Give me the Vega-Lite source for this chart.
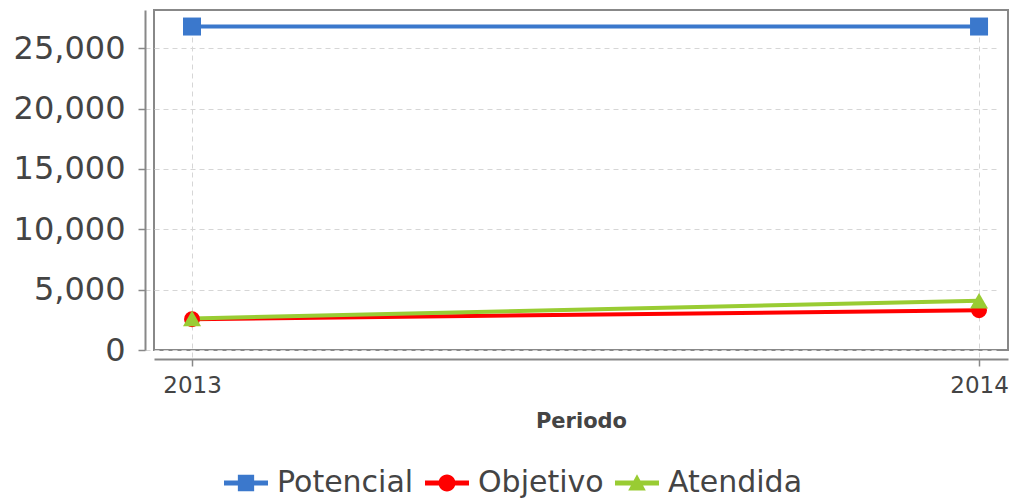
{
  "$schema": "https://vega.github.io/schema/vega-lite/v6.json",
  "autosize": {"type": "none"},
  "width": 854,
  "height": 340,
  "padding": {"left": 154, "top": 10, "right": 2, "bottom": 150},
  "background": "white",
  "config": {
    "view": {"stroke": "#888888", "strokeWidth": 2},
    "font": "DejaVu Sans",
    "axis": {
      "domainColor": "#888888",
      "domainWidth": 2,
      "tickColor": "#888888",
      "tickWidth": 1.5,
      "tickSize": 7,
      "offset": 9,
      "gridColor": "#d6d6d6",
      "gridDash": [5, 4],
      "gridWidth": 1,
      "labelColor": "#444444",
      "labelFont": "DejaVu Sans",
      "titleFont": "DejaVu Sans",
      "titleColor": "#444444"
    }
  },
  "data": {
    "values": [
      {"serie": "Potencial", "periodo": 2013, "valor": 26800},
      {"serie": "Potencial", "periodo": 2014, "valor": 26800},
      {"serie": "Objetivo", "periodo": 2013, "valor": 2550},
      {"serie": "Objetivo", "periodo": 2014, "valor": 3300},
      {"serie": "Atendida", "periodo": 2013, "valor": 2620},
      {"serie": "Atendida", "periodo": 2014, "valor": 4080}
    ]
  },
  "encoding": {
    "x": {
      "field": "periodo",
      "type": "quantitative",
      "scale": {"domain": [2012.9517, 2014.0368], "nice": false, "zero": false},
      "axis": {
        "values": [2013, 2014],
        "format": "d",
        "title": "Periodo",
        "labelFontSize": 23,
        "labelPadding": 8,
        "titleFontSize": 21,
        "titleFontWeight": 600,
        "titlePadding": 13
      }
    },
    "y": {
      "field": "valor",
      "type": "quantitative",
      "scale": {"domain": [0, 28170], "nice": false},
      "axis": {
        "values": [0, 5000, 10000, 15000, 20000, 25000],
        "format": ",d",
        "title": null,
        "labelFontSize": 32,
        "labelPadding": 13
      }
    },
    "color": {
      "field": "serie",
      "type": "nominal",
      "sort": ["Potencial", "Objetivo", "Atendida"],
      "scale": {
        "domain": ["Potencial", "Objetivo", "Atendida"],
        "range": ["#3b78cc", "#ff0000", "#99cc33"]
      },
      "legend": {
        "orient": "none",
        "direction": "horizontal",
        "columns": 3,
        "legendX": 70,
        "legendY": 451,
        "title": null,
        "padding": 0,
        "symbolSize": 1936,
        "symbolOpacity": 1,
        "symbolStrokeWidth": 0,
        "labelFont": "DejaVu Sans",
        "labelFontSize": 30,
        "labelColor": "#444444",
        "labelOffset": 9,
        "columnPadding": 11,
        "encode": {
          "symbols": {
            "update": {
              "shape": {"signal": "datum.value === 'Potencial' ? 'M-1,-0.114H1V0.114H-1Z M-0.37,-0.37H0.37V0.37H-0.37Z' : datum.value === 'Objetivo' ? 'M-1,-0.114H1V0.114H-1Z M0.386,0A0.386,0.386 0 1,1 -0.386,0A0.386,0.386 0 1,1 0.386,0Z' : 'M-1,-0.114H1V0.114H-1Z M0,-0.4L0.4,0.34H-0.4Z'"},
              "fill": {"scale": "color", "field": "value"},
              "stroke": {"value": "transparent"},
              "strokeWidth": {"value": 0},
              "opacity": {"value": 1},
              "size": {"value": 1936}
            }
          }
        }
      }
    }
  },
  "layer": [
    {
      "mark": {"type": "line", "strokeWidth": 4}
    },
    {
      "transform": [{"filter": "datum.serie === 'Potencial'"}],
      "mark": {"type": "point", "filled": true, "opacity": 1, "size": 324, "shape": "square"}
    },
    {
      "transform": [{"filter": "datum.serie === 'Objetivo'"}],
      "mark": {"type": "point", "filled": true, "opacity": 1, "size": 254, "shape": "circle"}
    },
    {
      "transform": [{"filter": "datum.serie === 'Atendida'"}],
      "mark": {"type": "point", "filled": true, "opacity": 1, "size": 324, "shape": "triangle-up"}
    }
  ]
}
